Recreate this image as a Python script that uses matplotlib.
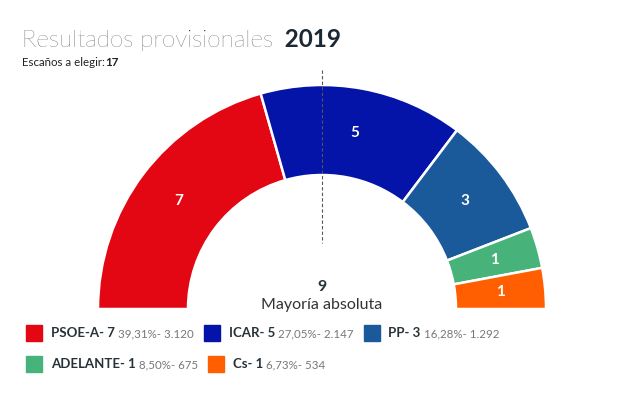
import matplotlib
matplotlib.use("Agg")
import matplotlib.pyplot as plt
from matplotlib.patches import Rectangle
import numpy as np

plt.rcParams['font.family'] = ['Lato', 'DejaVu Sans']

# data
parties = ["PSOE-A", "ICAR", "PP", "ADELANTE", "Cs"]
seats = [7, 5, 3, 1, 1]
pcts = ["39,31%", "27,05%", "16,28%", "8,50%", "6,73%"]
votes = ["3.120", "2.147", "1.292", "675", "534"]
colors = ["#e30613", "#0414a8", "#1a5a9a", "#47b37a", "#ff5f00"]
total_seats = 17
majority = 9

W, H = 636, 397
fig = plt.figure(figsize=(W / 100, H / 100), dpi=100)
ax = fig.add_axes([0, 0, 1, 1])

cx, cy = 322, H - 309
r_out, r_in = 224, 134

vals = seats + [total_seats]
wedges, _ = ax.pie(vals, colors=colors + ["none"], startangle=180, counterclock=False,
                   radius=r_out, center=(cx, cy), frame=True,
                   wedgeprops=dict(width=r_out - r_in, edgecolor="white", linewidth=1.8))
wedges[-1].set_edgecolor("none")
for w, s in zip(wedges[:-1], seats):
    ang = np.deg2rad((w.theta1 + w.theta2) / 2)
    rm = (r_out + r_in) / 2
    ax.text(cx + rm * np.cos(ang), cy + rm * np.sin(ang), str(s), color="white",
            fontsize=11, fontweight="bold", ha="center", va="center")

ax.set_xlim(0, W)
ax.set_ylim(0, H)
ax.set_aspect("auto")
ax.axis("off")

# majority line
ax.plot([cx, cx], [H - 70, H - 243], color="#555555", lw=0.8, ls=(0, (3, 2)))
ax.text(cx, H - 287, str(majority), fontsize=11.5, fontweight="bold", color="#263238",
        ha="center", va="center")
ax.text(cx, H - 305, "Mayoría absoluta", fontsize=11.5, color="#333333",
        ha="center", va="center")

# title
t = ax.text(22, H - 47, "Resultados provisionales", fontsize=17.5, fontweight="light",
            color="#222222", va="baseline")
ax.annotate("  2019", xy=(1, 0), xycoords=t, fontsize=17.5, fontweight="bold",
            color="#1c2833", va="bottom")
s = ax.text(22, H - 66, "Escaños a elegir:", fontsize=8.3, color="#222222", va="baseline")
ax.annotate("17", xy=(1, 0), xycoords=s, fontsize=8.3, fontweight="bold",
            color="#222222", va="bottom")

# legend (flow layout)
fig.canvas.draw()
rend = fig.canvas.get_renderer()
x, y = 26, H - 333
for p, n, pc, v, c in zip(parties, seats, pcts, votes, colors):
    sq = Rectangle((x, y - 8), 16, 16, color=c)
    ax.add_patch(sq)
    b = ax.text(x + 25, y, f"{p}- {n}", fontsize=9.5, fontweight="bold",
                color="#263238", va="center")
    g = ax.annotate(f" {pc}- {v}", xy=(1, 0), xycoords=b, fontsize=8.3,
                    color="#777777", va="bottom")
    fig.canvas.draw()
    bb = g.get_window_extent(rend)
    end = ax.transData.inverted().transform((bb.x1, 0))[0]
    x = end + 10
    if x > 430:
        x, y = 26, y - 31

fig.savefig("out.png", dpi=100)
